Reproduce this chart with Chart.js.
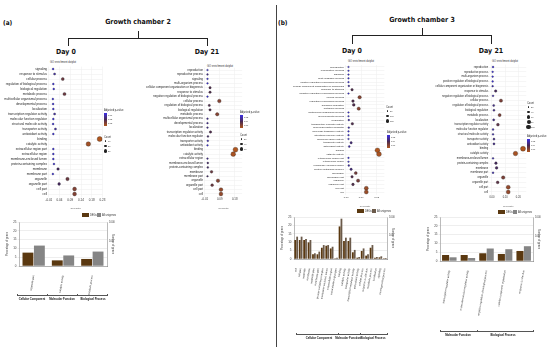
<!DOCTYPE html>
<html><head><meta charset="utf-8">
<script src="https://cdn.jsdelivr.net/npm/chart.js@4.4.0/dist/chart.umd.min.js"></script>
<style>
body{margin:0;width:550px;height:347px;background:#fff;position:relative;overflow:hidden;font-family:"Liberation Sans",Arial,sans-serif;}
.hd{position:absolute;font-family:"Liberation Sans Narrow","DejaVu Sans Condensed",sans-serif;font-weight:bold;font-size:7px;line-height:8px;color:#111;white-space:nowrap;}
.c{transform:translateX(-50%);}
.ln{position:absolute;background:#222;}
.tiny{position:absolute;font-size:2.6px;line-height:3px;color:#333;white-space:nowrap;}
.grp{position:absolute;font-size:2.8px;line-height:3px;font-weight:bold;color:#111;white-space:nowrap;transform:translateX(-50%);}
.grad{position:absolute;width:3px;background:linear-gradient(#3a2ee6,#4a2a52,#b0561e);}
.dot{position:absolute;border-radius:50%;background:#222;}
.sw{position:absolute;height:4px;}
canvas{position:absolute;}
</style></head><body>

<div class="hd" style="left:3px;top:19px;font-size:6.5px">(a)</div>
<div class="hd c" style="left:138px;top:18px">Growth chamber 2</div>
<div class="ln" style="left:68px;top:38px;width:140px;height:1px"></div>
<div class="ln" style="left:138px;top:31px;width:1px;height:7px"></div>
<div class="ln" style="left:68px;top:38px;width:1px;height:8px"></div>
<div class="ln" style="left:207px;top:38px;width:1px;height:8px"></div>
<div class="hd c" style="left:66px;top:48px">Day 0</div>
<div class="hd c" style="left:207px;top:48px">Day 21</div>

<div class="ln" style="left:276px;top:5px;width:1px;height:342px;background:#444"></div>

<div class="hd" style="left:278px;top:19px;font-size:6.5px">(b)</div>
<div class="hd c" style="left:422px;top:16px">Growth chamber 3</div>
<div class="ln" style="left:352px;top:35px;width:140px;height:1px"></div>
<div class="ln" style="left:422px;top:28px;width:1px;height:7px"></div>
<div class="ln" style="left:352px;top:35px;width:1px;height:9px"></div>
<div class="ln" style="left:491px;top:35px;width:1px;height:9px"></div>
<div class="hd c" style="left:352px;top:47px">Day 0</div>
<div class="hd c" style="left:491px;top:47px">Day 21</div>

<!-- dot plot titles -->
<div class="tiny" style="left:50px;top:61px">GO enrichment dotplot</div>
<div class="tiny" style="left:207px;top:65px">GO enrichment dotplot</div>
<div class="tiny" style="left:348px;top:60px">GO enrichment dotplot</div>
<div class="tiny" style="left:492px;top:60px">GO enrichment dotplot</div>

<canvas id="a0" width="130" height="150" style="left:0;top:60px"></canvas>
<canvas id="a21" width="145" height="150" style="left:130px;top:60px"></canvas>
<canvas id="b0" width="135" height="150" style="left:280px;top:58px"></canvas>
<canvas id="b21" width="140" height="150" style="left:410px;top:58px"></canvas>

<canvas id="ba" width="110" height="92" style="left:5px;top:212px"></canvas>
<canvas id="bb0" width="115" height="125" style="left:280px;top:207px"></canvas>
<canvas id="bb21" width="115" height="122" style="left:426px;top:207px"></canvas>

<div id="legends"></div>

<script>
// ---- dot plot data: Growth chamber 2, Day 0
var a0Terms = ['signaling','response to stimulus','cellular process','regulation of biological process','biological regulation','metabolic process','multicellular organismal process','developmental process','localization','transcription regulator activity','molecular function regulator','structural molecule activity','transporter activity','antioxidant activity','binding','catalytic activity','extracellular region part','extracellular region','membrane-enclosed lumen','protein-containing complex','membrane','membrane part','organelle','organelle part','cell part','cell'];
var a0Ratio = [0.005,0.012,0.05,0.006,0.008,0.058,0.004,0.005,0.006,0.012,0.006,0.005,0.016,0.006,0.222,0.169,0.006,0.006,0.006,0.009,0.028,0.004,0.072,0.033,0.105,0.105];
var a0Count = [1,2,7,1,1,8,1,1,1,2,1,1,2,1,31,24,1,1,1,1,4,1,10,5,15,15];
var a0P = [0.05,0.04,0.02,0.05,0.05,0.02,0.05,0.05,0.05,0.04,0.05,0.05,0.04,0.05,0.005,0.008,0.05,0.05,0.05,0.05,0.03,0.05,0.02,0.03,0.015,0.015];

// ---- Growth chamber 2, Day 21
var a21Terms = ['reproduction','reproductive process','signaling','multi-organism process','cellular component organization or biogenesis','response to stimulus','negative regulation of biological process','cellular process','regulation of biological process','biological regulation','metabolic process','multicellular organismal process','developmental process','localization','transcription regulator activity','molecular function regulator','transporter activity','antioxidant activity','binding','catalytic activity','extracellular region','membrane-enclosed lumen','protein-containing complex','membrane','membrane part','organelle','organelle part','cell part','cell'];
var a21Ratio = [0.003,0.003,0.003,0.003,0.02,0.02,0.003,0.082,0.015,0.02,0.068,0.003,0.003,0.003,0.023,0.006,0.005,0.003,0.19,0.175,0.003,0.005,0.005,0.03,0.003,0.073,0.034,0.093,0.093];
var a21Count = [1,1,1,1,6,6,1,25,5,6,20,1,1,1,7,2,2,1,57,52,1,2,2,9,1,22,10,28,28];
var a21P = [0.08,0.06,0.08,0.08,0.04,0.04,0.08,0.02,0.04,0.04,0.02,0.06,0.06,0.06,0.04,0.05,0.07,0.08,0.005,0.008,0.06,0.05,0.05,0.03,0.05,0.02,0.03,0.015,0.015];

// ---- Growth chamber 3, Day 0
var b0Terms = ['reproduction','reproductive process','signaling','multi-organism process','positive regulation of biological process','cellular component organization or biogenesis','response to stimulus','negative regulation of biological process','cellular process','regulation of biological process','biological regulation','metabolic process','multicellular organismal process','developmental process','localization','transcription regulator activity','molecular function regulator','molecular transducer activity','structural molecule activity','molecular carrier activity','transporter activity','antioxidant activity','binding','catalytic activity','extracellular region part','extracellular region','membrane-enclosed lumen','protein-containing complex','membrane','membrane part','organelle','organelle part','cell part','cell'];
var b0Ratio = [0.003,0.003,0.003,0.003,0.003,0.005,0.026,0.003,0.075,0.032,0.037,0.069,0.003,0.003,0.005,0.028,0.005,0.003,0.003,0.003,0.02,0.008,0.19,0.2,0.003,0.003,0.005,0.02,0.05,0.026,0.065,0.032,0.118,0.118];
var b0Count = [2,2,2,2,2,4,18,2,53,22,26,48,2,2,4,20,4,2,2,2,14,6,133,140,2,2,4,14,35,18,46,22,83,83];
var b0P = [0.06,0.06,0.06,0.06,0.06,0.05,0.03,0.06,0.015,0.03,0.03,0.015,0.06,0.06,0.05,0.03,0.05,0.06,0.06,0.06,0.04,0.05,0.004,0.006,0.06,0.06,0.05,0.04,0.02,0.03,0.02,0.03,0.01,0.01];

// ---- Growth chamber 3, Day 21
var b21Terms = ['reproduction','reproductive process','multi-organism process','positive regulation of biological process','cellular component organization or biogenesis','response to stimulus','negative regulation of biological process','cellular process','regulation of biological process','biological regulation','metabolic process','localization','transcription regulator activity','molecular function regulator','structural molecule activity','transporter activity','antioxidant activity','binding','catalytic activity','membrane-enclosed lumen','protein-containing complex','membrane','membrane part','organelle','organelle part','cell part','cell'];
var b21Ratio = [0.008,0.005,0.005,0.005,0.005,0.028,0.008,0.068,0.013,0.015,0.058,0.013,0.045,0.008,0.008,0.015,0.015,0.235,0.178,0.008,0.03,0.035,0.008,0.085,0.043,0.123,0.123];
var b21Count = [3,2,2,2,2,12,3,29,6,6,25,6,19,3,3,6,6,101,77,3,13,15,3,37,18,53,53];
var b21P = [0.07,0.07,0.07,0.07,0.06,0.04,0.06,0.02,0.05,0.05,0.02,0.05,0.03,0.06,0.06,0.05,0.05,0.003,0.006,0.06,0.04,0.04,0.06,0.02,0.03,0.012,0.012];

// ---- bar chart data (percentage of genes)
var baCats = ['organelle part','catalytic activity','metabolic process'];
var baDeg = [7.6,3.2,4.0];
var baAll = [11.6,6.0,8.2];

var bb0Cats = ['cell','cell part','organelle','membrane','organelle part','membrane part','protein-containing complex','membrane-enclosed lumen','extracellular region','extracellular region part','binding','catalytic activity','transporter activity','transcription regulator activity','antioxidant activity','cellular process','response to stimulus','metabolic process','localization','signaling','developmental process'];
var bb0Deg = [11.3,11.3,11.3,9.9,2.8,2.8,6.7,7.9,6.3,0.4,19.4,10.7,10.7,4.0,0.8,4.8,2.0,6.7,0.8,1.0,0.4];
var bb0All = [13.3,13.3,11.9,11.3,3.4,4.4,8.3,8.3,7.3,0.8,24.0,12.7,12.7,5.4,1.2,6.3,2.8,8.3,1.2,1.6,0.6];

var bb21Cats = ['transcription regulator activity','molecular function regulator activity','negative regulation of biological process','cellular component organization','response to stimulus'];
var bb21Deg = [3.4,3.4,4.4,4.0,5.7];
var bb21All = [2.1,1.7,7.1,6.7,8.4];

var leftTicks = [0,5,10,15,20,25];
var rightTicks = [14,25];
var rightTickLabels = ['100','1000'];

var brown = '#5a3810';
var grey = '#858585';

function mix(c1, c2, t) {
  return c1.map(function(v, i) { return Math.round(v + (c2[i] - v) * t); });
}
function pColor(p, pmin, pmax) {
  var t = Math.max(0, Math.min(1, (p - pmin) / (pmax - pmin)));
  var lo = [176, 86, 30], mid = [74, 42, 82], hi = [58, 46, 230];
  var c = t < 0.5 ? mix(lo, mid, t * 2) : mix(mid, hi, (t - 0.5) * 2);
  return 'rgb(' + c.join(',') + ')';
}

function dotPlot(id, terms, ratio, count, pv, o) {
  var pts = terms.map(function(t, i) {
    return {x: ratio[i], y: t, r: 0.6 + 1.9 * Math.sqrt(count[i] / o.cmax)};
  });
  var cols = pv.map(function(p) { return pColor(p, o.pmin, o.pmax); });
  new Chart(document.getElementById(id), {
    type: 'bubble',
    data: {datasets: [{data: pts, backgroundColor: cols, borderColor: '#222', borderWidth: 0.3}]},
    options: {
      responsive: false, animation: false,
      layout: {padding: {top: o.top, right: o.right, left: 0, bottom: 0}},
      plugins: {legend: {display: false}, tooltip: {enabled: false}},
      scales: {
        x: {type: 'linear', min: -0.015, max: o.xmax,
          ticks: {stepSize: 0.05, includeBounds: false, font: {size: o.fs}, color: '#333', padding: 0.5, maxRotation: 0,
            callback: function(v) { return v.toFixed(2); }},
          grid: {color: '#ececec', lineWidth: 0.5, tickLength: 1},
          border: {display: false},
          title: {display: true, text: 'GeneRatio', font: {size: 2.2}, color: '#555', padding: 0},
          afterFit: function(s) { s.height = o.xh; }},
        y: {type: 'category', labels: terms, offset: true,
          ticks: {autoSkip: false, font: {size: o.fs}, color: '#222', padding: 0.8},
          grid: {color: '#ececec', lineWidth: 0.5, tickLength: 1},
          border: {display: false},
          afterFit: function(s) { s.width = o.yw; }}
      }
    }
  });
}

dotPlot('a0', a0Terms, a0Ratio, a0Count, a0P, {top: 6.5, right: 27.5, yw: 48.8, xh: 13.5, xmax: 0.235, fs: 3, cmax: 30, pmin: 0.005, pmax: 0.05});
dotPlot('a21', a21Terms, a21Ratio, a21Count, a21P, {top: 7.8, right: 32.8, yw: 74.8, xh: 13.8, xmax: 0.235, fs: 2.8, cmax: 60, pmin: 0.005, pmax: 0.08});
dotPlot('b0', b0Terms, b0Ratio, b0Count, b0P, {top: 7.1, right: 30.6, yw: 65.7, xh: 14.1, xmax: 0.235, fs: 2.5, cmax: 150, pmin: 0.004, pmax: 0.06});
dotPlot('b21', b21Terms, b21Ratio, b21Count, b21P, {top: 6.6, right: 23.7, yw: 80, xh: 13.6, xmax: 0.26, fs: 2.6, cmax: 100, pmin: 0.003, pmax: 0.07});

function barChart(id, cats, deg, all, o) {
  new Chart(document.getElementById(id), {
    type: 'bar',
    data: {labels: cats, datasets: [
      {label: 'DEGs', data: deg, backgroundColor: brown, categoryPercentage: o.cp, barPercentage: 0.95},
      {label: 'All unigenes', data: all, backgroundColor: o.second, categoryPercentage: o.cp, barPercentage: 0.95}
    ]},
    options: {
      responsive: false, animation: false,
      layout: {padding: {top: 10, right: 0, left: 0, bottom: 0}},
      plugins: {legend: {display: false}, tooltip: {enabled: false}},
      scales: {
        x: {ticks: {autoSkip: false, minRotation: 80, maxRotation: 80, font: {size: 2.6}, color: '#333', padding: 1},
          grid: {display: false}, border: {color: '#777', width: 0.5},
          afterFit: function(s) { s.height = o.xh; }},
        y: {min: 0, max: 25,
          afterBuildTicks: function(s) { s.ticks = leftTicks.map(function(v) { return {value: v}; }); },
          ticks: {font: {size: 3}, color: '#444', padding: 1},
          grid: {color: '#dcdcdc', lineWidth: 0.5, tickLength: 1.5},
          border: {color: '#777', width: 0.5},
          title: {display: true, text: 'Percentage of genes', font: {size: 2.6}, color: '#444', padding: 0.5},
          afterFit: function(s) { s.width = 14; }},
        y1: {position: 'right', min: 0, max: 25,
          afterBuildTicks: function(s) { s.ticks = rightTicks.map(function(v) { return {value: v}; }); },
          ticks: {font: {size: 2.6}, color: '#444', padding: 0.5,
            callback: function(v) { return rightTickLabels[rightTicks.indexOf(v)]; }},
          grid: {display: false, tickLength: 1.5},
          border: {color: '#777', width: 0.5},
          title: {display: true, text: 'Number of genes', font: {size: 2.6}, color: '#444', padding: 0.5},
          afterFit: function(s) { s.width = 8; }}
      }
    }
  });
}

barChart('ba', baCats, baDeg, baAll, {xh: 38, cp: 0.78, second: grey});
barChart('bb0', bb0Cats, bb0Deg, bb0All, {xh: 73, cp: 0.85, second: '#6b5a4a'});
barChart('bb21', bb21Cats, bb21Deg, bb21All, {xh: 68, cp: 0.8, second: grey});

// ---- legends, group labels and brackets (html)
var lg = document.getElementById('legends');
function add(html) { lg.insertAdjacentHTML('beforeend', html); }

function pLegend(x, y, labels) {
  add('<div class="tiny" style="left:' + x + 'px;top:' + y + 'px">Adjusted p-value</div>');
  add('<div class="grad" style="left:' + x + 'px;top:' + (y + 4) + 'px;height:13px"></div>');
  labels.forEach(function(l, i) {
    add('<div class="tiny" style="left:' + (x + 4) + 'px;top:' + (y + 5 + i * 4) + 'px;font-size:2.2px">' + l + '</div>');
  });
}
function cLegend(x, y, labels, step) {
  add('<div class="tiny" style="left:' + x + 'px;top:' + y + 'px">Count</div>');
  labels.forEach(function(l, i) {
    var r = 0.8 + i * 0.4, cy = y + 5 + i * step;
    add('<div class="dot" style="left:' + (x + 1.5 - r) + 'px;top:' + (cy - r) + 'px;width:' + 2 * r + 'px;height:' + 2 * r + 'px"></div>');
    add('<div class="tiny" style="left:' + (x + 4) + 'px;top:' + (cy - 1.3) + 'px;font-size:2.2px">' + l + '</div>');
  });
}
pLegend(104, 109, ['0.01', '0.02', '0.03']);
cLegend(104, 136, ['10', '20', '30'], 5);
pLegend(240, 111, ['0.02', '0.04', '0.06']);
cLegend(240, 134, ['20', '40', '60'], 5);
cLegend(386, 106, ['50', '100', '150'], 5);
pLegend(387, 131, ['0.02', '0.04', '0.06']);
cLegend(527, 102, ['20', '40', '60', '80', '100'], 5);
pLegend(527, 135, ['0.02', '0.04', '0.06']);

function barLegend(x, y, second) {
  add('<div class="sw" style="left:' + x + 'px;top:' + y + 'px;width:7px;background:' + brown + '"></div>');
  add('<div class="tiny" style="left:' + (x + 8) + 'px;top:' + (y + 0.5) + 'px">DEGs</div>');
  add('<div class="sw" style="left:' + (x + 15) + 'px;top:' + y + 'px;width:4px;background:' + second + '"></div>');
  add('<div class="tiny" style="left:' + (x + 20) + 'px;top:' + (y + 0.5) + 'px">All unigenes</div>');
}
barLegend(82, 213, grey);
barLegend(357, 209, '#6b5a4a');
barLegend(498, 210, grey);

function bracket(x1, x2, y, ticks) {
  add('<div class="ln" style="left:' + x1 + 'px;top:' + y + 'px;width:' + (x2 - x1) + 'px;height:0.6px;background:#555"></div>');
  ticks.forEach(function(t) {
    add('<div class="ln" style="left:' + t + 'px;top:' + (y - 1.5) + 'px;width:0.6px;height:2px;background:#555"></div>');
  });
}
bracket(17, 107, 295, [17, 47, 77, 107]);
add('<div class="grp" style="left:32px;top:297.5px">Cellular Component</div>');
add('<div class="grp" style="left:62px;top:297.5px">Molecular Function</div>');
add('<div class="grp" style="left:93px;top:297.5px">Biological Process</div>');

bracket(296, 387, 334, [296, 338, 360, 387]);
add('<div class="grp" style="left:319px;top:336.5px">Cellular Component</div>');
add('<div class="grp" style="left:348px;top:336.5px">Molecular Function</div>');
add('<div class="grp" style="left:373px;top:336.5px">Biological Process</div>');

bracket(440, 533, 331, [440, 477, 533]);
add('<div class="grp" style="left:458px;top:333.5px">Molecular Function</div>');
add('<div class="grp" style="left:503px;top:333.5px">Biological Process</div>');
</script>
</body></html>
